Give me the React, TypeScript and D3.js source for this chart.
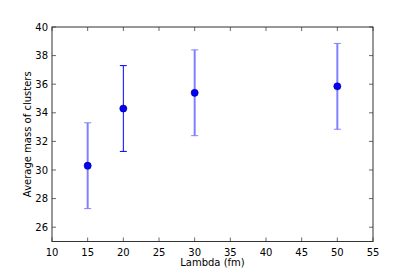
import React, { useEffect, useRef } from "react";
import * as d3 from "d3";

const lambdas = [15, 20, 30, 50];
const masses = [30.3, 34.3, 35.4, 35.85];
const errors = [3.0, 3.0, 3.0, 3.0];
const barColors = ["#8080ff", "#0000ff", "#8080ff", "#8080ff"];
const barWidths = [2, 1, 2, 2];
const xTicks = [10, 15, 20, 25, 30, 35, 40, 45, 50, 55];
const yTicks = [26, 28, 30, 32, 34, 36, 38, 40];

export default function App() {
  const ref = useRef<SVGSVGElement>(null);

  useEffect(() => {
    const svg = d3.select(ref.current);
    svg.selectAll("*").remove();

    const left = 52, right = 373, top = 27, bottom = 241.5;
    const x = d3.scaleLinear().domain([10, 55]).range([left, right]);
    const y = d3.scaleLinear().domain([25, 40]).range([bottom, top]);

    svg.append("rect").attr("width", 415).attr("height", 277).attr("fill", "#fff");

    const font = "DejaVu Sans, sans-serif";
    const g = svg.append("g");

    // ticks on all sides, pointing inward
    const tickLen = 4;
    xTicks.forEach(t => {
      g.append("line").attr("x1", x(t)).attr("x2", x(t)).attr("y1", bottom).attr("y2", bottom - tickLen)
        .attr("stroke", "#000").attr("stroke-width", 0.6);
      g.append("line").attr("x1", x(t)).attr("x2", x(t)).attr("y1", top).attr("y2", top + tickLen)
        .attr("stroke", "#000").attr("stroke-width", 0.6);
      g.append("text").attr("x", x(t)).attr("y", bottom + 14).attr("text-anchor", "middle")
        .attr("font-family", font).attr("font-size", 10).text(t);
    });
    yTicks.forEach(t => {
      g.append("line").attr("x1", left).attr("x2", left + tickLen).attr("y1", y(t)).attr("y2", y(t))
        .attr("stroke", "#000").attr("stroke-width", 0.6);
      g.append("line").attr("x1", right).attr("x2", right - tickLen).attr("y1", y(t)).attr("y2", y(t))
        .attr("stroke", "#000").attr("stroke-width", 0.6);
      g.append("text").attr("x", left - 4).attr("y", y(t)).attr("dy", "0.35em").attr("text-anchor", "end")
        .attr("font-family", font).attr("font-size", 10).text(t);
    });

    // error bars
    lambdas.forEach((l, i) => {
      const c = barColors[i];
      const lo = y(masses[i] - errors[i]);
      const hi = y(masses[i] + errors[i]);
      g.append("line").attr("x1", x(l)).attr("x2", x(l)).attr("y1", lo).attr("y2", hi)
        .attr("stroke", c).attr("stroke-width", barWidths[i]);
      [lo, hi].forEach(v => {
        g.append("line").attr("x1", x(l) - 3.5).attr("x2", x(l) + 3.5).attr("y1", v).attr("y2", v)
          .attr("stroke", c).attr("stroke-width", 1);
      });
    });

    g.selectAll("circle.pt")
      .data(lambdas)
      .join("circle")
      .attr("class", "pt")
      .attr("cx", d => x(d))
      .attr("cy", (d, i) => y(masses[i]))
      .attr("r", 3.6)
      .attr("fill", "#0000ff")
      .attr("stroke", "#000055")
      .attr("stroke-width", 0.5);

    g.append("rect").attr("x", left).attr("y", top).attr("width", right - left).attr("height", bottom - top)
      .attr("fill", "none").attr("stroke", "#333").attr("stroke-width", 1);

    g.append("text").attr("x", (left + right) / 2).attr("y", 266).attr("text-anchor", "middle")
      .attr("font-family", font).attr("font-size", 10).text("Lambda (fm)");
    g.append("text").attr("transform", `translate(31,${(top + bottom) / 2}) rotate(-90)`)
      .attr("text-anchor", "middle").attr("font-family", font).attr("font-size", 10)
      .text("Average mass of clusters");
  }, []);

  return (
    <svg ref={ref} width={415} height={277} style={{ position: "absolute", left: 0, top: 0 }} />
  );
}
